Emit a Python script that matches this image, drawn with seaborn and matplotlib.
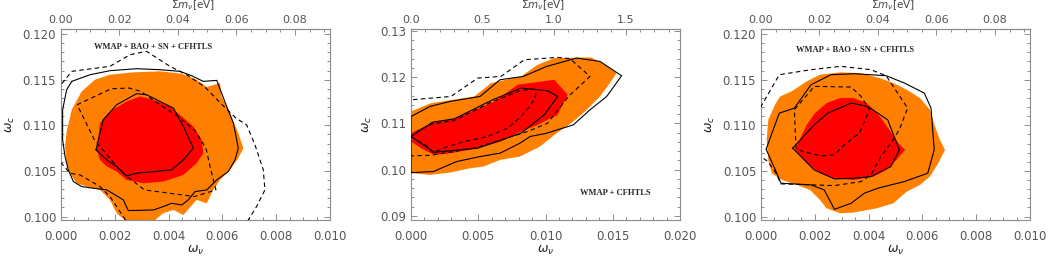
import numpy as np
import matplotlib
matplotlib.use("Agg")
import matplotlib.pyplot as plt
import seaborn as sns
from matplotlib.ticker import MultipleLocator, FormatStrFormatter

# contour vertices, (omega_nu, omega_c) pairs

# left panel: WMAP + BAO + SN + CFHTLS
p1_orange = [(0.00015, 0.10768), (0.00021, 0.10933), (0.00040, 0.11171), (0.00077, 0.11372),
             (0.00126, 0.11500), (0.00182, 0.11555), (0.00269, 0.11581), (0.00368, 0.11592),
             (0.00449, 0.11566), (0.00504, 0.11500), (0.00542, 0.11420), (0.00591, 0.11464),
             (0.00597, 0.11317), (0.00628, 0.11134), (0.00659, 0.10915), (0.00678, 0.10750),
             (0.00659, 0.10640), (0.00628, 0.10512), (0.00591, 0.10402), (0.00566, 0.10293),
             (0.00542, 0.10146), (0.00504, 0.10183), (0.00455, 0.10018), (0.00418, 0.10073),
             (0.00380, 0.10037), (0.00343, 0.09945), (0.00244, 0.09945), (0.00207, 0.10037),
             (0.00182, 0.10183), (0.00145, 0.10293), (0.00095, 0.10330), (0.00058, 0.10366),
             (0.00033, 0.10476), (0.00021, 0.10585)]
p1_red = [(0.00133, 0.10732), (0.00145, 0.11024), (0.00182, 0.11153), (0.00244, 0.11262),
          (0.00294, 0.11317), (0.00343, 0.11281), (0.00405, 0.11207), (0.00442, 0.11116),
          (0.00492, 0.10988), (0.00523, 0.10842), (0.00529, 0.10695), (0.00504, 0.10585),
          (0.00455, 0.10457), (0.00380, 0.10384), (0.00306, 0.10366), (0.00244, 0.10402),
          (0.00207, 0.10494), (0.00170, 0.10549), (0.00145, 0.10622)]
p1_solid_out = [(0.00040, 0.11482), (0.00108, 0.11555), (0.00182, 0.11599), (0.00281, 0.11621),
                (0.00368, 0.11610), (0.00442, 0.11592), (0.00486, 0.11544), (0.00529, 0.11482),
                (0.00579, 0.11493), (0.00616, 0.11207), (0.00641, 0.11024), (0.00659, 0.10750),
                (0.00647, 0.10622), (0.00622, 0.10494), (0.00579, 0.10402), (0.00542, 0.10293),
                (0.00498, 0.10274), (0.00473, 0.10183), (0.00449, 0.10128), (0.00411, 0.10146),
                (0.00380, 0.10110), (0.00343, 0.10073), (0.00250, 0.10066), (0.00232, 0.10183),
                (0.00170, 0.10293), (0.00120, 0.10311), (0.00077, 0.10329), (0.00046, 0.10384),
                (0.00027, 0.10512), (0.00015, 0.10659), (0.00006, 0.10842), (0.00006, 0.11171),
                (0.00021, 0.11390)]
p1_solid_in = [(0.00130, 0.10732), (0.00157, 0.11061), (0.00207, 0.11226), (0.00281, 0.11347),
               (0.00318, 0.11336), (0.00380, 0.11244), (0.00418, 0.11189), (0.00455, 0.10988),
               (0.00492, 0.10750), (0.00455, 0.10622), (0.00411, 0.10512), (0.00281, 0.10476),
               (0.00244, 0.10446), (0.00207, 0.10549), (0.00170, 0.10622)]
p1_dash_out = [(-0.0005, 0.1140), (0.0, 0.11445), (0.00040, 0.11592), (0.00182, 0.11647),
               (0.00257, 0.11775), (0.00318, 0.11811), (0.00405, 0.11647), (0.00467, 0.11555),
               (0.00535, 0.11420), (0.00591, 0.11250), (0.00650, 0.11080), (0.00690, 0.11006),
               (0.00721, 0.10787), (0.00752, 0.10512), (0.00758, 0.10293), (0.00727, 0.10110),
               (0.00696, 0.09963), (0.00680, 0.0990), (0.00250, 0.0990), (0.00244, 0.09945),
               (0.00182, 0.10220), (0.00145, 0.10330), (0.00071, 0.10457), (0.00033, 0.10476),
               (0.00002, 0.10585), (-0.0005, 0.1065)]
p1_dash_in = [(0.00060, 0.11226), (0.00186, 0.11401), (0.00254, 0.11409), (0.00297, 0.11372),
              (0.00359, 0.11244), (0.00434, 0.11098), (0.00496, 0.10951), (0.00539, 0.10750),
              (0.00554, 0.10549), (0.00576, 0.10293), (0.00496, 0.10220), (0.00310, 0.10293),
              (0.00223, 0.10494), (0.00124, 0.10842)]

# middle panel: WMAP + CFHTLS
p2_orange = [(0.0, 0.11257), (0.00149, 0.11437), (0.00471, 0.11581), (0.00595, 0.11870),
             (0.00818, 0.12014), (0.00942, 0.12266), (0.01066, 0.12410), (0.01338, 0.12425),
             (0.01425, 0.12302), (0.01529, 0.12086), (0.01479, 0.11870), (0.01405, 0.11581),
             (0.01306, 0.11293), (0.01207, 0.11040), (0.01083, 0.10788), (0.00959, 0.10500),
             (0.00810, 0.10283), (0.00662, 0.10211), (0.00538, 0.10067), (0.00439, 0.10031),
             (0.00290, 0.09937), (0.00141, 0.09887), (0.0, 0.09923)]
p2_red = [(0.0, 0.10788), (0.00161, 0.11019), (0.00322, 0.11098), (0.00620, 0.11473),
          (0.00793, 0.11834), (0.01066, 0.11942), (0.01165, 0.11617), (0.01090, 0.11185),
          (0.00942, 0.10968), (0.00818, 0.10824), (0.00669, 0.10608), (0.00496, 0.10464),
          (0.00297, 0.10356), (0.00173, 0.10319), (0.00074, 0.10464), (0.0, 0.10608)]
p2_solid_out = [(0.0, 0.11149), (0.00141, 0.11365), (0.00290, 0.11473), (0.00513, 0.11581),
                (0.00662, 0.11942), (0.00835, 0.12014), (0.01009, 0.12230), (0.01232, 0.12410),
                (0.01405, 0.12338), (0.01566, 0.12028), (0.01455, 0.11581), (0.01331, 0.11293),
                (0.01207, 0.10968), (0.01009, 0.10788), (0.00885, 0.10716), (0.00810, 0.10572),
                (0.00662, 0.10356), (0.00513, 0.10283), (0.00339, 0.10175), (0.00166, 0.09959),
                (0.0, 0.09937)]
p2_solid_in = [(0.0, 0.10716), (0.00173, 0.10377), (0.00496, 0.10464), (0.00818, 0.10788),
               (0.00991, 0.11185), (0.01090, 0.11581), (0.01016, 0.11704), (0.00818, 0.11762),
               (0.00607, 0.11509), (0.00322, 0.11098), (0.00161, 0.11026)]
p2_dash_out = [(-0.001, 0.1150), (0.0, 0.11509), (0.00297, 0.11581), (0.00496, 0.11978),
               (0.00669, 0.12014), (0.00843, 0.12374), (0.01090, 0.12425), (0.01182, 0.12396),
               (0.01331, 0.12014), (0.01170, 0.11581), (0.01016, 0.11004), (0.00867, 0.10824),
               (0.00669, 0.10644), (0.00496, 0.10485), (0.00322, 0.10392), (0.00149, 0.10312),
               (0.0, 0.10298), (-0.001, 0.1030)]
p2_dash_in = [(0.0, 0.10716), (0.00112, 0.10521), (0.00161, 0.10370), (0.00273, 0.10500),
              (0.00396, 0.10608), (0.00570, 0.10716), (0.00719, 0.10896), (0.00818, 0.11149),
              (0.00892, 0.11401), (0.00929, 0.11617), (0.00917, 0.11740), (0.00818, 0.11711),
              (0.00607, 0.11473), (0.00322, 0.11062), (0.00161, 0.10990), (0.00067, 0.10860)]

# right panel: WMAP + BAO + SN + CFHTLS
p3_orange = [(0.00021, 0.10842), (0.00027, 0.11061), (0.00052, 0.11226), (0.00071, 0.11317),
             (0.00114, 0.11372), (0.00170, 0.11482), (0.00219, 0.11555), (0.00294, 0.11581),
             (0.00368, 0.11573), (0.00442, 0.11518), (0.00492, 0.11464), (0.00542, 0.11390),
             (0.00591, 0.11299), (0.00628, 0.11171), (0.00647, 0.10988), (0.00665, 0.10842),
             (0.00684, 0.10732), (0.00659, 0.10585), (0.00628, 0.10439), (0.00591, 0.10348),
             (0.00542, 0.10274), (0.00492, 0.10146), (0.00430, 0.10091), (0.00343, 0.10044),
             (0.00294, 0.10037), (0.00244, 0.10091), (0.00219, 0.10183), (0.00182, 0.10293),
             (0.00133, 0.10348), (0.00077, 0.10402), (0.00040, 0.10476), (0.00027, 0.10622)]
p3_red = [(0.00126, 0.10732), (0.00170, 0.11006), (0.00201, 0.11134), (0.00244, 0.11244),
          (0.00294, 0.11299), (0.00343, 0.11299), (0.00393, 0.11244), (0.00442, 0.11098),
          (0.00486, 0.10915), (0.00511, 0.10805), (0.00535, 0.10732), (0.00504, 0.10622),
          (0.00467, 0.10512), (0.00418, 0.10439), (0.00343, 0.10402), (0.00269, 0.10421),
          (0.00219, 0.10476), (0.00170, 0.10585)]
p3_solid_out = [(0.00019, 0.10739), (0.00068, 0.11134), (0.00124, 0.11189), (0.00186, 0.11445),
                (0.00260, 0.11555), (0.00347, 0.11566), (0.00465, 0.11544), (0.00533, 0.11464),
                (0.00607, 0.11354), (0.00632, 0.11189), (0.00644, 0.10732), (0.00620, 0.10476),
                (0.00533, 0.10384), (0.00483, 0.10348), (0.00434, 0.10311), (0.00384, 0.10256),
                (0.00335, 0.10146), (0.00273, 0.10080), (0.00235, 0.10293), (0.00186, 0.10348),
                (0.00074, 0.10366), (0.00056, 0.10494)]
p3_solid_in = [(0.00118, 0.10750), (0.00198, 0.11006), (0.00248, 0.11134), (0.00335, 0.11244),
               (0.00397, 0.11207), (0.00471, 0.11061), (0.00514, 0.10732), (0.00483, 0.10549),
               (0.00409, 0.10439), (0.00347, 0.10421), (0.00273, 0.10413), (0.00198, 0.10512)]
p3_dash_out = [(-0.0005, 0.1110), (0.0, 0.11207), (0.00068, 0.11555), (0.00186, 0.11610),
               (0.00297, 0.11647), (0.00409, 0.11610), (0.00465, 0.11544), (0.00545, 0.11189),
               (0.00514, 0.10951), (0.00483, 0.10805), (0.00446, 0.10659), (0.00409, 0.10457),
               (0.00372, 0.10384), (0.00273, 0.10340), (0.00074, 0.10359), (0.00056, 0.10476),
               (0.00025, 0.10604), (0.0, 0.10659), (-0.0005, 0.1065)]
p3_dash_in = [(0.00130, 0.10750), (0.00124, 0.11171), (0.00198, 0.11427), (0.00335, 0.11420),
              (0.00372, 0.11317), (0.00403, 0.11171), (0.00366, 0.10915), (0.00310, 0.10787),
              (0.00273, 0.10677), (0.00223, 0.10666), (0.00155, 0.10714)]

labels = ["WMAP + BAO + SN + CFHTLS", "WMAP + CFHTLS", "WMAP + BAO + SN + CFHTLS"]

# top-axis (sum of neutrino masses) tick values
top_ticks_small = [0.00, 0.02, 0.04, 0.06, 0.08]
top_ticks_large = [0.0, 0.5, 1.0, 1.5]

ORANGE = "#ff8000"
RED = "#ff0000"
GREY = "#8c8c8c"
TXT = "#555555"

sns.set_style("ticks")
plt.rcParams["font.family"] = ["DejaVu Sans"]
plt.rcParams["mathtext.fontset"] = "dejavusans"

fig = plt.figure(figsize=(10.49, 2.59), dpi=100)

panels = [
    dict(left=61, fills=(p1_orange, p1_red), solid=(p1_solid_out, p1_solid_in),
         dash=(p1_dash_out, p1_dash_in), xlim=(0, 0.010), ylim=(0.09963, 0.12056),
         xmaj=0.002, xmin=0.0005, ymaj=0.005, ymin=0.001, xfmt="%.3f", yfmt="%.3f",
         k=9.2, tticks=top_ticks_small, tmin=0.005, tfmt="%.2f", lab=(0.343, 0.905)),
    dict(left=411, fills=(p2_orange, p2_red), solid=(p2_solid_out, p2_solid_in),
         dash=(p2_dash_out, p2_dash_in), xlim=(0, 0.020), ylim=(0.08913, 0.13038),
         xmaj=0.005, xmin=0.001, ymaj=0.01, ymin=0.002, xfmt="%.3f", yfmt="%.2f",
         k=94.0, tticks=top_ticks_large, tmin=0.1, tfmt="%.1f", lab=(0.758, 0.14)),
    dict(left=761, fills=(p3_orange, p3_red), solid=(p3_solid_out, p3_solid_in),
         dash=(p3_dash_out, p3_dash_in), xlim=(0, 0.010), ylim=(0.09963, 0.12056),
         xmaj=0.002, xmin=0.0005, ymaj=0.005, ymin=0.001, xfmt="%.3f", yfmt="%.3f",
         k=9.2, tticks=top_ticks_small, tmin=0.005, tfmt="%.2f", lab=(0.349, 0.89)),
]

for p, lab in zip(panels, labels):
    ax = fig.add_axes([p["left"] / 1049, 1 - 220 / 259, 269 / 1049, 191 / 259])
    for poly, col in zip(p["fills"], (ORANGE, RED)):
        a = np.array(poly)
        ax.fill(a[:, 0], a[:, 1], color=col, lw=0, zorder=1)
    for poly in p["solid"]:
        a = np.array(poly + [poly[0]])
        sns.lineplot(x=a[:, 0], y=a[:, 1], sort=False, estimator=None, color="black",
                     lw=0.8, ax=ax, zorder=3)
    for poly in p["dash"]:
        a = np.array(poly + [poly[0]])
        sns.lineplot(x=a[:, 0], y=a[:, 1], sort=False, estimator=None, color="black",
                     lw=0.8, linestyle=(0, (4, 3)), ax=ax, zorder=3)

    ax.set_xlim(*p["xlim"])
    ax.set_ylim(*p["ylim"])
    ax.xaxis.set_major_locator(MultipleLocator(p["xmaj"]))
    ax.xaxis.set_minor_locator(MultipleLocator(p["xmin"]))
    ax.yaxis.set_major_locator(MultipleLocator(p["ymaj"]))
    ax.yaxis.set_minor_locator(MultipleLocator(p["ymin"]))
    ax.xaxis.set_major_formatter(FormatStrFormatter(p["xfmt"]))
    ax.yaxis.set_major_formatter(FormatStrFormatter(p["yfmt"]))
    ax.tick_params(which="both", direction="in", color=GREY, labelcolor=TXT,
                   labelsize=8.5, right=True, top=False, width=0.7)
    ax.tick_params(which="major", length=4)
    ax.tick_params(which="minor", length=2.2)
    ax.tick_params(axis="x", pad=7)
    for s in ax.spines.values():
        s.set_color(GREY)
        s.set_linewidth(0.8)
        s.set_visible(True)

    ax.set_xlabel(r"$\omega_\nu$", fontsize=9, color="#222222", labelpad=1)
    ax.set_ylabel(r"$\omega_c$", fontsize=9, color="#222222", labelpad=4)

    k = p["k"]
    sec = ax.secondary_xaxis("top", functions=(lambda w, k=k: w * k, lambda s, k=k: s / k))
    sec.set_xticks(p["tticks"])
    sec.xaxis.set_minor_locator(MultipleLocator(p["tmin"]))
    sec.xaxis.set_major_formatter(FormatStrFormatter(p["tfmt"]))
    sec.tick_params(which="both", direction="in", color=GREY, labelcolor=TXT,
                    labelsize=8, width=0.7, pad=3)
    sec.tick_params(which="major", length=4)
    sec.tick_params(which="minor", length=2.2)
    sec.spines["top"].set_color(GREY)
    sec.set_xlabel(r"$\Sigma m_\nu [{\rm eV}]$", fontsize=7.5, color="#444444")
    sec.xaxis.set_label_coords(0.49, (220 - 5) / 191, transform=ax.transAxes)
    sec.xaxis.label.set_va("center")

    ax.text(p["lab"][0], p["lab"][1], lab, transform=ax.transAxes, ha="center", va="center",
            fontsize=6.1, fontweight="bold", family="Liberation Serif", zorder=5)

fig.savefig("out.png", dpi=100)
